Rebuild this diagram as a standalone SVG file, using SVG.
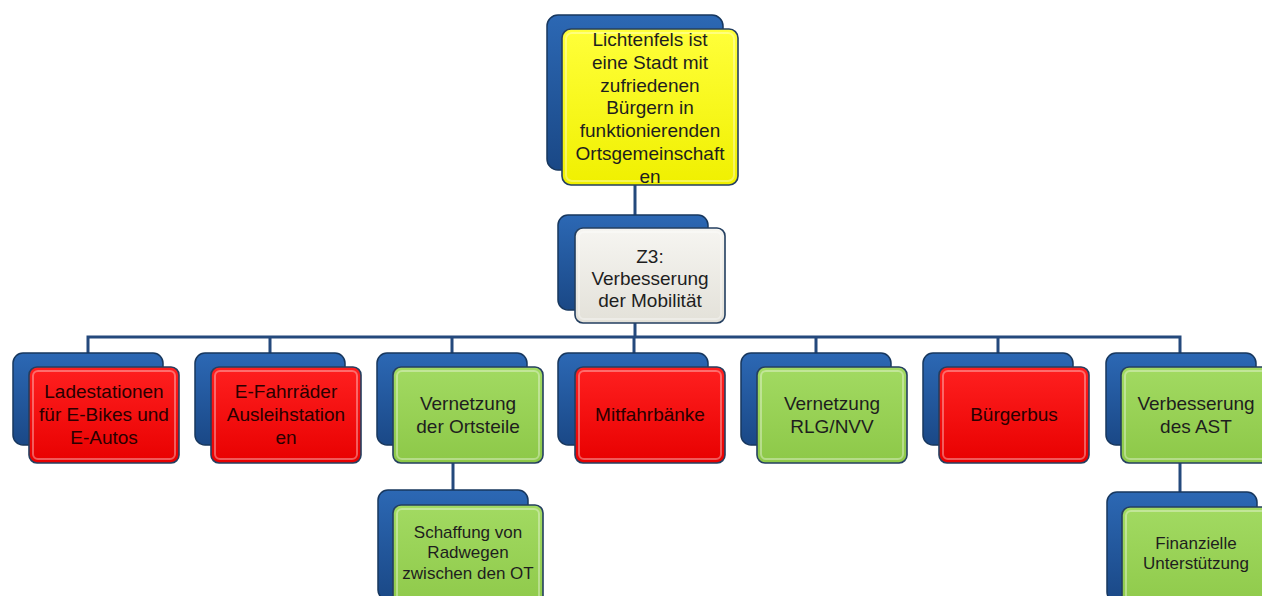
<svg xmlns="http://www.w3.org/2000/svg" width="1262" height="596" viewBox="0 0 1262 596">
<defs>
<linearGradient id="gBlue" x1="0" y1="0" x2="0" y2="1"><stop offset="0" stop-color="#2C68B4"/><stop offset="1" stop-color="#1A4886"/></linearGradient>
<linearGradient id="gRed" x1="0" y1="0" x2="0" y2="1"><stop offset="0" stop-color="#FF2020"/><stop offset="1" stop-color="#E80000"/></linearGradient>
<linearGradient id="gGreen" x1="0" y1="0" x2="0" y2="1"><stop offset="0" stop-color="#A2DA62"/><stop offset="1" stop-color="#8DC848"/></linearGradient>
<linearGradient id="gYellow" x1="0" y1="0" x2="0" y2="1"><stop offset="0" stop-color="#FFFF3A"/><stop offset="1" stop-color="#F0F000"/></linearGradient>
<linearGradient id="gGray" x1="0" y1="0" x2="0" y2="1"><stop offset="0" stop-color="#F6F5F1"/><stop offset="1" stop-color="#E3E1D9"/></linearGradient>
<style>
.back{fill:url(#gBlue);stroke:#17375E;stroke-width:1.5}
.front{stroke:#243F60;stroke-width:1.6}
.bev{fill:none;stroke:#FFFFFF;stroke-opacity:0.35;stroke-width:2}
.red{fill:url(#gRed)}
.green{fill:url(#gGreen)}
.yellow{fill:url(#gYellow)}
.gray{fill:url(#gGray)}
.conn{fill:none;stroke:#24497C;stroke-width:3}
text{font-family:"Liberation Sans",Arial,sans-serif;font-size:19px;fill:#1E1E1E;text-anchor:middle}
.rt{fill:#2A0000}
.small{font-size:17px}
</style>
</defs>
<rect width="1262" height="596" fill="#FFFFFF"/>
<g id="connectors">
<path class="conn" d="M635 180 V337"/>
<path class="conn" d="M88 353 V337 H1180 V353"/>
<path class="conn" d="M270 337 V353 M452 337 V353 M634 337 V353 M816 337 V353 M998 337 V353"/>
<path class="conn" d="M453 460 V492"/>
<path class="conn" d="M1180 460 V494"/>
</g>
<g id="top">
<rect class="back" x="547" y="15" width="176" height="155" rx="11"/>
<rect class="front yellow" x="562" y="29" width="176" height="156" rx="9"/>
<rect class="bev" x="566" y="33" width="168" height="148" rx="6"/>
<text x="650" y="46">Lichtenfels ist</text>
<text x="650" y="69">eine Stadt mit</text>
<text x="650" y="92">zufriedenen</text>
<text x="650" y="114">Bürgern in</text>
<text x="650" y="137">funktionierenden</text>
<text x="650" y="160">Ortsgemeinschaft</text>
<text x="650" y="183">en</text>
</g>
<g id="z3">
<rect class="back" x="558" y="215" width="150" height="95" rx="10"/>
<rect class="front gray" x="575" y="228" width="150" height="95" rx="8"/>
<rect class="bev" x="579" y="232" width="142" height="87" rx="5"/>
<text x="650" y="263">Z3:</text>
<text x="650" y="285">Verbesserung</text>
<text x="650" y="307">der Mobilität</text>
</g>
<g id="n1">
<rect class="back" x="13" y="353" width="150" height="92" rx="10"/>
<rect class="front red" x="29" y="367" width="150" height="96" rx="8"/>
<rect class="bev" x="33" y="371" width="142" height="88" rx="5"/>
<text class="rt" x="104" y="398">Ladestationen</text>
<text class="rt" x="104" y="421">für E-Bikes und</text>
<text class="rt" x="104" y="444">E-Autos</text>
</g>
<g id="n2">
<rect class="back" x="195" y="353" width="150" height="92" rx="10"/>
<rect class="front red" x="211" y="367" width="150" height="96" rx="8"/>
<rect class="bev" x="215" y="371" width="142" height="88" rx="5"/>
<text class="rt" x="286" y="398">E-Fahrräder</text>
<text class="rt" x="286" y="421">Ausleihstation</text>
<text class="rt" x="286" y="444">en</text>
</g>
<g id="n3">
<rect class="back" x="377" y="353" width="150" height="92" rx="10"/>
<rect class="front green" x="393" y="367" width="150" height="96" rx="8"/>
<rect class="bev" x="397" y="371" width="142" height="88" rx="5"/>
<text x="468" y="410">Vernetzung</text>
<text x="468" y="433">der Ortsteile</text>
</g>
<g id="n4">
<rect class="back" x="558" y="353" width="150" height="92" rx="10"/>
<rect class="front red" x="575" y="367" width="150" height="96" rx="8"/>
<rect class="bev" x="579" y="371" width="142" height="88" rx="5"/>
<text class="rt" x="650" y="421">Mitfahrbänke</text>
</g>
<g id="n5">
<rect class="back" x="741" y="353" width="150" height="92" rx="10"/>
<rect class="front green" x="757" y="367" width="150" height="96" rx="8"/>
<rect class="bev" x="761" y="371" width="142" height="88" rx="5"/>
<text x="832" y="410">Vernetzung</text>
<text x="832" y="433">RLG/NVV</text>
</g>
<g id="n6">
<rect class="back" x="923" y="353" width="150" height="92" rx="10"/>
<rect class="front red" x="939" y="367" width="150" height="96" rx="8"/>
<rect class="bev" x="943" y="371" width="142" height="88" rx="5"/>
<text class="rt" x="1014" y="421">Bürgerbus</text>
</g>
<g id="n7">
<rect class="back" x="1106" y="353" width="150" height="92" rx="10"/>
<rect class="front green" x="1121" y="367" width="150" height="96" rx="8"/>
<rect class="bev" x="1125" y="371" width="142" height="88" rx="5"/>
<text x="1196" y="410">Verbesserung</text>
<text x="1196" y="433">des AST</text>
</g>
<g id="n3a">
<rect class="back" x="378" y="490" width="150" height="110" rx="10"/>
<rect class="front green" x="393" y="505" width="150" height="110" rx="8"/>
<rect class="bev" x="397" y="509" width="142" height="102" rx="5"/>
<text class="small" x="468" y="538">Schaffung von</text>
<text class="small" x="468" y="558">Radwegen</text>
<text class="small" x="468" y="579">zwischen den OT</text>
</g>
<g id="n7a">
<rect class="back" x="1107" y="492" width="150" height="110" rx="10"/>
<rect class="front green" x="1122" y="507" width="150" height="110" rx="8"/>
<rect class="bev" x="1126" y="511" width="142" height="102" rx="5"/>
<text class="small" x="1196" y="549">Finanzielle</text>
<text class="small" x="1196" y="569">Unterstützung</text>
</g>
</svg>
